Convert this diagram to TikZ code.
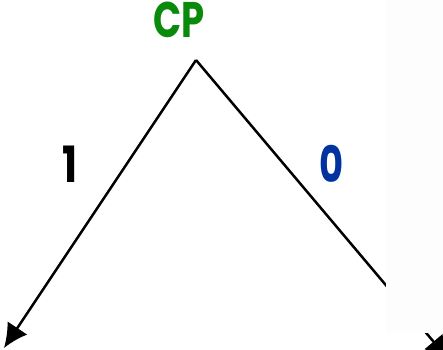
\documentclass[tikz,border=0pt]{standalone}
\usepackage{fontspec}
\setmainfont{Poppins}
\usetikzlibrary{arrows.meta}
\definecolor{cpgreen}{RGB}{10,138,10}
\definecolor{zeroblue}{RGB}{0,51,160}
\definecolor{veil}{RGB}{253,253,253}
\begin{document}
\begin{tikzpicture}[x=1pt,y=-1pt,
  lbl/.style={font=\fontsize{50}{50}\selectfont\bfseries, inner sep=0pt, anchor=center},
  edge/.style={line width=2.5pt, -{Latex[length=24pt,width=24pt]}}]
\useasboundingbox (0,0) rectangle (443,349);
\clip (0,0) rectangle (443,349);
\coordinate (apex) at (196,60);
\coordinate (lefttip) at (4,348);
\coordinate (righttip) at (449,360);
\draw[edge] (apex) -- (lefttip);
\draw[edge] (apex) -- (righttip);
\fill[veil] (386,0) rectangle (443,333);
\node[lbl, text=cpgreen] (cp) at (179,20) {\scalebox{0.74}[1]{CP}};
\node[lbl, text=black] (one) at (70,164) {\scalebox{0.8}[1]{1}};
\node[lbl, text=zeroblue] (zero) at (332,164) {\scalebox{0.74}[1]{0}};
\end{tikzpicture}
\end{document}
